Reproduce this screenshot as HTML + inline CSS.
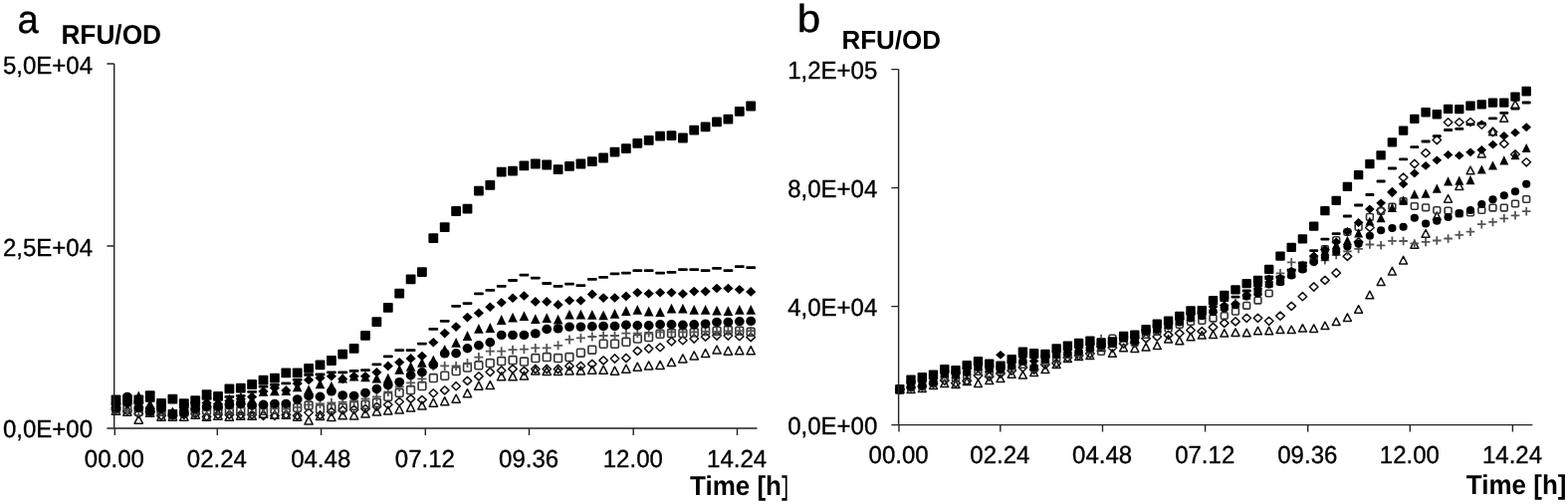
<!DOCTYPE html>
<html><head><meta charset="utf-8"><title>RFU/OD</title>
<style>
html,body{margin:0;padding:0;background:#fff;width:1575px;height:506px;overflow:hidden}
svg{display:block}
text{text-rendering:geometricPrecision}
.n{font-family:"Liberation Sans", Arial, Helvetica, sans-serif;font-size:24px;fill:#000;stroke:#000;stroke-width:0.35px}
.b{font-family:"Liberation Sans", Arial, Helvetica, sans-serif;font-size:26px;font-weight:bold;fill:#000}
.big{font-family:"Liberation Sans", Arial, Helvetica, sans-serif;font-size:39px;fill:#000;stroke:#000;stroke-width:0.4px}
</style></head><body>
<svg width="1575" height="506" viewBox="0 0 1575 506">
<g fill="none" stroke="#111" stroke-width="1.5" stroke-linejoin="round"><path d="M116.5 408.2L120.7 416.2L112.3 416.2Z"/><path d="M127.9 409.2L132.0 417.2L123.7 417.2Z"/><path d="M139.3 417.2L143.4 425.2L135.1 425.2Z"/><path d="M150.7 410.2L154.8 418.2L146.5 418.2Z"/><path d="M162.0 414.2L166.2 422.2L157.9 422.2Z"/><path d="M173.4 414.2L177.6 422.2L169.3 422.2Z"/><path d="M184.8 414.2L189.0 422.2L180.7 422.2Z"/><path d="M196.2 412.2L200.4 420.2L192.1 420.2Z"/><path d="M207.6 414.2L211.7 422.2L203.4 422.2Z"/><path d="M219.0 413.2L223.1 421.2L214.8 421.2Z"/><path d="M230.4 414.2L234.5 422.2L226.2 422.2Z"/><path d="M241.8 413.2L245.9 421.2L237.6 421.2Z"/><path d="M253.1 413.2L257.3 421.2L249.0 421.2Z"/><path d="M264.5 411.2L268.7 419.2L260.4 419.2Z"/><path d="M275.9 412.2L280.1 420.2L271.8 420.2Z"/><path d="M287.3 412.2L291.5 420.2L283.2 420.2Z"/><path d="M298.7 414.2L302.8 422.2L294.5 422.2Z"/><path d="M310.1 418.1L314.2 426.1L305.9 426.1Z"/><path d="M321.5 413.6L325.6 421.6L317.3 421.6Z"/><path d="M332.9 414.5L337.0 422.6L328.7 422.6Z"/><path d="M344.2 412.7L348.4 420.8L340.1 420.8Z"/><path d="M355.6 413.0L359.8 421.1L351.5 421.1Z"/><path d="M367.0 411.0L371.2 419.1L362.9 419.1Z"/><path d="M378.4 409.0L382.6 417.1L374.3 417.1Z"/><path d="M389.8 408.0L393.9 416.1L385.6 416.1Z"/><path d="M401.2 407.0L405.3 415.1L397.0 415.1Z"/><path d="M412.6 405.1L416.7 413.1L408.4 413.1Z"/><path d="M423.9 403.1L428.1 411.1L419.8 411.1Z"/><path d="M435.3 400.2L439.5 408.2L431.2 408.2Z"/><path d="M446.7 398.7L450.9 406.8L442.6 406.8Z"/><path d="M458.1 396.2L462.3 404.2L454.0 404.2Z"/><path d="M469.5 390.7L473.6 398.8L465.3 398.8Z"/><path d="M480.9 383.2L485.0 391.2L476.7 391.2Z"/><path d="M492.3 382.6L496.4 390.6L488.1 390.6Z"/><path d="M503.7 373.7L507.8 381.8L499.5 381.8Z"/><path d="M515.0 373.7L519.2 381.8L510.9 381.8Z"/><path d="M526.4 373.1L530.6 381.1L522.3 381.1Z"/><path d="M537.8 367.8L542.0 375.9L533.7 375.9Z"/><path d="M549.2 368.4L553.4 376.4L545.1 376.4Z"/><path d="M560.6 368.4L564.7 376.4L556.4 376.4Z"/><path d="M572.0 367.8L576.1 375.9L567.8 375.9Z"/><path d="M583.4 367.8L587.5 375.9L579.2 375.9Z"/><path d="M594.8 367.2L598.9 375.2L590.6 375.2Z"/><path d="M606.1 367.2L610.3 375.2L602.0 375.2Z"/><path d="M617.5 368.2L621.7 376.2L613.4 376.2Z"/><path d="M628.9 366.2L633.1 374.2L624.8 374.2Z"/><path d="M640.3 364.2L644.5 372.2L636.2 372.2Z"/><path d="M651.7 362.9L655.8 370.9L647.5 370.9Z"/><path d="M663.1 362.4L667.2 370.4L658.9 370.4Z"/><path d="M674.5 359.6L678.6 367.6L670.3 367.6Z"/><path d="M685.9 355.8L690.0 363.9L681.7 363.9Z"/><path d="M697.2 352.9L701.4 360.9L693.1 360.9Z"/><path d="M708.6 350.5L712.8 358.6L704.5 358.6Z"/><path d="M720.0 347.0L724.2 355.1L715.9 355.1Z"/><path d="M731.4 348.2L735.5 356.2L727.2 356.2Z"/><path d="M742.8 347.7L746.9 355.8L738.6 355.8Z"/><path d="M754.2 347.7L758.3 355.8L750.0 355.8Z"/></g>
<g fill="none" stroke="#111" stroke-width="1.5" stroke-linejoin="round"><path d="M116.5 407.3L120.8 411.4L116.5 415.4L112.2 411.4Z"/><path d="M127.9 408.3L132.1 412.4L127.9 416.4L123.6 412.4Z"/><path d="M139.3 411.3L143.5 415.4L139.3 419.4L135.0 415.4Z"/><path d="M150.7 409.3L154.9 413.4L150.7 417.4L146.4 413.4Z"/><path d="M162.0 413.3L166.3 417.4L162.0 421.4L157.8 417.4Z"/><path d="M173.4 413.3L177.7 417.4L173.4 421.4L169.2 417.4Z"/><path d="M184.8 412.3L189.1 416.4L184.8 420.4L180.6 416.4Z"/><path d="M196.2 411.3L200.5 415.4L196.2 419.4L192.0 415.4Z"/><path d="M207.6 414.3L211.8 418.4L207.6 422.4L203.3 418.4Z"/><path d="M219.0 412.3L223.2 416.4L219.0 420.4L214.7 416.4Z"/><path d="M230.4 412.3L234.6 416.4L230.4 420.4L226.1 416.4Z"/><path d="M241.8 412.3L246.0 416.4L241.8 420.4L237.5 416.4Z"/><path d="M253.1 412.3L257.4 416.4L253.1 420.4L248.9 416.4Z"/><path d="M264.5 413.3L268.8 417.4L264.5 421.4L260.3 417.4Z"/><path d="M275.9 413.3L280.2 417.4L275.9 421.4L271.7 417.4Z"/><path d="M287.3 412.3L291.6 416.4L287.3 420.4L283.1 416.4Z"/><path d="M298.7 413.3L302.9 417.4L298.7 421.4L294.4 417.4Z"/><path d="M310.1 410.1L314.3 414.2L310.1 418.2L305.8 414.2Z"/><path d="M321.5 412.8L325.7 416.9L321.5 420.9L317.2 416.9Z"/><path d="M332.9 409.3L337.1 413.4L332.9 417.4L328.6 413.4Z"/><path d="M344.2 407.8L348.5 411.9L344.2 415.9L340.0 411.9Z"/><path d="M355.6 407.1L359.9 411.2L355.6 415.2L351.4 411.2Z"/><path d="M367.0 406.3L371.3 410.4L367.0 414.4L362.8 410.4Z"/><path d="M378.4 404.2L382.7 408.3L378.4 412.3L374.2 408.3Z"/><path d="M389.8 402.2L394.0 406.3L389.8 410.3L385.5 406.3Z"/><path d="M401.2 399.2L405.4 403.3L401.2 407.3L396.9 403.3Z"/><path d="M412.6 396.3L416.8 400.4L412.6 404.4L408.3 400.4Z"/><path d="M423.9 397.3L428.2 401.4L423.9 405.4L419.7 401.4Z"/><path d="M435.3 390.7L439.6 394.8L435.3 398.8L431.1 394.8Z"/><path d="M446.7 387.8L451.0 391.9L446.7 395.9L442.5 391.9Z"/><path d="M458.1 383.6L462.4 387.7L458.1 391.8L453.9 387.7Z"/><path d="M469.5 378.3L473.7 382.4L469.5 386.4L465.2 382.4Z"/><path d="M480.9 373.8L485.1 377.9L480.9 381.9L476.6 377.9Z"/><path d="M492.3 369.4L496.5 373.5L492.3 377.6L488.0 373.5Z"/><path d="M503.7 367.9L507.9 372.0L503.7 376.1L499.4 372.0Z"/><path d="M515.0 366.3L519.3 370.4L515.0 374.4L510.8 370.4Z"/><path d="M526.4 368.3L530.7 372.4L526.4 376.4L522.2 372.4Z"/><path d="M537.8 366.4L542.1 370.5L537.8 374.6L533.6 370.5Z"/><path d="M549.2 366.4L553.5 370.5L549.2 374.6L545.0 370.5Z"/><path d="M560.6 366.4L564.8 370.5L560.6 374.6L556.3 370.5Z"/><path d="M572.0 363.4L576.2 367.5L572.0 371.6L567.7 367.5Z"/><path d="M583.4 363.4L587.6 367.5L583.4 371.6L579.1 367.5Z"/><path d="M594.8 361.3L599.0 365.4L594.8 369.4L590.5 365.4Z"/><path d="M606.1 357.8L610.4 361.9L606.1 365.9L601.9 361.9Z"/><path d="M617.5 355.9L621.8 360.0L617.5 364.1L613.3 360.0Z"/><path d="M628.9 355.4L633.2 359.5L628.9 363.6L624.7 359.5Z"/><path d="M640.3 348.3L644.6 352.4L640.3 356.4L636.1 352.4Z"/><path d="M651.7 345.9L655.9 350.0L651.7 354.1L647.4 350.0Z"/><path d="M663.1 344.7L667.3 348.8L663.1 352.8L658.8 348.8Z"/><path d="M674.5 338.8L678.7 342.9L674.5 346.9L670.2 342.9Z"/><path d="M685.9 337.6L690.1 341.7L685.9 345.8L681.6 341.7Z"/><path d="M697.2 335.9L701.5 340.0L697.2 344.1L693.0 340.0Z"/><path d="M708.6 334.0L712.9 338.1L708.6 342.1L704.4 338.1Z"/><path d="M720.0 332.9L724.3 337.0L720.0 341.1L715.8 337.0Z"/><path d="M731.4 332.9L735.6 337.0L731.4 341.1L727.1 337.0Z"/><path d="M742.8 333.6L747.0 337.7L742.8 341.8L738.5 337.7Z"/><path d="M754.2 334.5L758.4 338.6L754.2 342.6L749.9 338.6Z"/></g>
<g fill="none" stroke="#333" stroke-width="1.6"><rect x="112.7" y="406.4" width="7.7" height="7.9" rx="1.2"/><rect x="124.0" y="407.4" width="7.7" height="7.9" rx="1.2"/><rect x="135.4" y="409.4" width="7.7" height="7.9" rx="1.2"/><rect x="146.8" y="408.4" width="7.7" height="7.9" rx="1.2"/><rect x="158.2" y="409.4" width="7.7" height="7.9" rx="1.2"/><rect x="169.6" y="412.4" width="7.7" height="7.9" rx="1.2"/><rect x="181.0" y="410.4" width="7.7" height="7.9" rx="1.2"/><rect x="192.4" y="409.4" width="7.7" height="7.9" rx="1.2"/><rect x="203.7" y="408.4" width="7.7" height="7.9" rx="1.2"/><rect x="215.1" y="408.4" width="7.7" height="7.9" rx="1.2"/><rect x="226.5" y="408.4" width="7.7" height="7.9" rx="1.2"/><rect x="237.9" y="408.4" width="7.7" height="7.9" rx="1.2"/><rect x="249.3" y="409.4" width="7.7" height="7.9" rx="1.2"/><rect x="260.7" y="408.4" width="7.7" height="7.9" rx="1.2"/><rect x="272.1" y="407.4" width="7.7" height="7.9" rx="1.2"/><rect x="283.5" y="406.4" width="7.7" height="7.9" rx="1.2"/><rect x="294.8" y="405.4" width="7.7" height="7.9" rx="1.2"/><rect x="306.2" y="403.1" width="7.7" height="7.9" rx="1.2"/><rect x="317.6" y="406.8" width="7.7" height="7.9" rx="1.2"/><rect x="329.0" y="405.8" width="7.7" height="7.9" rx="1.2"/><rect x="340.4" y="405.4" width="7.7" height="7.9" rx="1.2"/><rect x="351.8" y="403.4" width="7.7" height="7.9" rx="1.2"/><rect x="363.2" y="402.4" width="7.7" height="7.9" rx="1.2"/><rect x="374.6" y="400.4" width="7.7" height="7.9" rx="1.2"/><rect x="385.9" y="394.4" width="7.7" height="7.9" rx="1.2"/><rect x="397.3" y="390.4" width="7.7" height="7.9" rx="1.2"/><rect x="408.7" y="387.6" width="7.7" height="7.9" rx="1.2"/><rect x="420.1" y="383.6" width="7.7" height="7.9" rx="1.2"/><rect x="431.5" y="375.6" width="7.7" height="7.9" rx="1.2"/><rect x="442.9" y="373.3" width="7.7" height="7.9" rx="1.2"/><rect x="454.3" y="368.6" width="7.7" height="7.9" rx="1.2"/><rect x="465.6" y="365.1" width="7.7" height="7.9" rx="1.2"/><rect x="477.0" y="362.9" width="7.7" height="7.9" rx="1.2"/><rect x="488.4" y="360.6" width="7.7" height="7.9" rx="1.2"/><rect x="499.8" y="358.6" width="7.7" height="7.9" rx="1.2"/><rect x="511.2" y="357.6" width="7.7" height="7.9" rx="1.2"/><rect x="522.6" y="359.1" width="7.7" height="7.9" rx="1.2"/><rect x="534.0" y="355.6" width="7.7" height="7.9" rx="1.2"/><rect x="545.4" y="354.6" width="7.7" height="7.9" rx="1.2"/><rect x="556.7" y="355.6" width="7.7" height="7.9" rx="1.2"/><rect x="568.1" y="354.6" width="7.7" height="7.9" rx="1.2"/><rect x="579.5" y="350.2" width="7.7" height="7.9" rx="1.2"/><rect x="590.9" y="347.2" width="7.7" height="7.9" rx="1.2"/><rect x="602.3" y="341.3" width="7.7" height="7.9" rx="1.2"/><rect x="613.7" y="341.3" width="7.7" height="7.9" rx="1.2"/><rect x="625.1" y="339.4" width="7.7" height="7.9" rx="1.2"/><rect x="636.5" y="336.1" width="7.7" height="7.9" rx="1.2"/><rect x="647.8" y="334.6" width="7.7" height="7.9" rx="1.2"/><rect x="659.2" y="331.3" width="7.7" height="7.9" rx="1.2"/><rect x="670.6" y="330.6" width="7.7" height="7.9" rx="1.2"/><rect x="682.0" y="330.6" width="7.7" height="7.9" rx="1.2"/><rect x="693.4" y="329.9" width="7.7" height="7.9" rx="1.2"/><rect x="704.8" y="328.2" width="7.7" height="7.9" rx="1.2"/><rect x="716.2" y="328.2" width="7.7" height="7.9" rx="1.2"/><rect x="727.5" y="327.6" width="7.7" height="7.9" rx="1.2"/><rect x="738.9" y="328.2" width="7.7" height="7.9" rx="1.2"/><rect x="750.3" y="329.4" width="7.7" height="7.9" rx="1.2"/></g>
<g fill="none" stroke="#555" stroke-width="1.8"><path d="M112.0 410.4H121.0M116.5 405.9V414.9"/><path d="M123.4 411.4H132.4M127.9 406.9V415.9"/><path d="M134.8 412.4H143.8M139.3 407.9V416.9"/><path d="M146.2 412.4H155.2M150.7 407.9V416.9"/><path d="M157.5 413.4H166.5M162.0 408.9V417.9"/><path d="M168.9 416.4H177.9M173.4 411.9V420.9"/><path d="M180.3 414.4H189.3M184.8 409.9V418.9"/><path d="M191.7 412.4H200.7M196.2 407.9V416.9"/><path d="M203.1 411.4H212.1M207.6 406.9V415.9"/><path d="M214.5 410.4H223.5M219.0 405.9V414.9"/><path d="M225.9 410.4H234.9M230.4 405.9V414.9"/><path d="M237.3 409.4H246.3M241.8 404.9V413.9"/><path d="M248.6 408.4H257.6M253.1 403.9V412.9"/><path d="M260.0 410.4H269.0M264.5 405.9V414.9"/><path d="M271.4 410.4H280.4M275.9 405.9V414.9"/><path d="M282.8 410.7H291.8M287.3 406.2V415.2"/><path d="M294.2 408.9H303.2M298.7 404.4V413.4"/><path d="M305.6 406.4H314.6M310.1 401.9V410.9"/><path d="M317.0 405.4H326.0M321.5 400.9V409.9"/><path d="M328.4 404.4H337.4M332.9 399.9V408.9"/><path d="M339.7 403.6H348.7M344.2 399.1V408.1"/><path d="M351.1 402.4H360.1M355.6 397.9V406.9"/><path d="M362.5 400.4H371.5M367.0 395.9V404.9"/><path d="M373.9 398.4H382.9M378.4 393.9V402.9"/><path d="M385.3 393.4H394.3M389.8 388.9V397.9"/><path d="M396.7 388.4H405.7M401.2 383.9V392.9"/><path d="M408.1 384.4H417.1M412.6 379.9V388.9"/><path d="M419.4 380.4H428.4M423.9 375.9V384.9"/><path d="M430.8 367.4H439.8M435.3 362.9V371.9"/><path d="M442.2 367.4H451.2M446.7 362.9V371.9"/><path d="M453.6 367.4H462.6M458.1 362.9V371.9"/><path d="M465.0 364.6H474.0M469.5 360.1V369.1"/><path d="M476.4 358.6H485.4M480.9 354.1V363.1"/><path d="M487.8 352.7H496.8M492.3 348.2V357.2"/><path d="M499.2 352.7H508.2M503.7 348.2V357.2"/><path d="M510.5 351.2H519.5M515.0 346.7V355.7"/><path d="M521.9 350.6H530.9M526.4 346.1V355.1"/><path d="M533.3 349.4H542.3M537.8 344.9V353.9"/><path d="M544.7 349.4H553.7M549.2 344.9V353.9"/><path d="M556.1 346.8H565.1M560.6 342.3V351.3"/><path d="M567.5 340.9H576.5M572.0 336.4V345.4"/><path d="M578.9 339.4H587.9M583.4 334.9V343.9"/><path d="M590.3 338.0H599.3M594.8 333.5V342.5"/><path d="M601.6 337.0H610.6M606.1 332.5V341.5"/><path d="M613.0 337.0H622.0M617.5 332.5V341.5"/><path d="M624.4 334.6H633.4M628.9 330.1V339.1"/><path d="M635.8 334.6H644.8M640.3 330.1V339.1"/><path d="M647.2 333.9H656.2M651.7 329.4V338.4"/><path d="M658.6 333.4H667.6M663.1 328.9V337.9"/><path d="M670.0 333.4H679.0M674.5 328.9V337.9"/><path d="M681.4 333.4H690.4M685.9 328.9V337.9"/><path d="M692.7 333.4H701.7M697.2 328.9V337.9"/><path d="M704.1 332.9H713.1M708.6 328.4V337.4"/><path d="M715.5 332.9H724.5M720.0 328.4V337.4"/><path d="M726.9 332.4H735.9M731.4 327.9V336.9"/><path d="M738.3 332.4H747.3M742.8 327.9V336.9"/><path d="M749.7 332.2H758.7M754.2 327.7V336.7"/></g>
<g fill="#000"><ellipse cx="116.5" cy="409.4" rx="4.90" ry="4.70"/><ellipse cx="127.9" cy="398.4" rx="4.90" ry="4.70"/><ellipse cx="139.3" cy="409.4" rx="4.90" ry="4.70"/><ellipse cx="150.7" cy="413.4" rx="4.90" ry="4.70"/><ellipse cx="162.0" cy="410.4" rx="4.90" ry="4.70"/><ellipse cx="173.4" cy="416.4" rx="4.90" ry="4.70"/><ellipse cx="184.8" cy="414.4" rx="4.90" ry="4.70"/><ellipse cx="196.2" cy="410.4" rx="4.90" ry="4.70"/><ellipse cx="207.6" cy="408.4" rx="4.90" ry="4.70"/><ellipse cx="219.0" cy="408.4" rx="4.90" ry="4.70"/><ellipse cx="230.4" cy="406.4" rx="4.90" ry="4.70"/><ellipse cx="241.8" cy="405.4" rx="4.90" ry="4.70"/><ellipse cx="253.1" cy="406.9" rx="4.90" ry="4.70"/><ellipse cx="264.5" cy="406.2" rx="4.90" ry="4.70"/><ellipse cx="275.9" cy="405.4" rx="4.90" ry="4.70"/><ellipse cx="287.3" cy="405.4" rx="4.90" ry="4.70"/><ellipse cx="298.7" cy="400.9" rx="4.90" ry="4.70"/><ellipse cx="310.1" cy="397.4" rx="4.90" ry="4.70"/><ellipse cx="321.5" cy="398.2" rx="4.90" ry="4.70"/><ellipse cx="332.9" cy="392.9" rx="4.90" ry="4.70"/><ellipse cx="344.2" cy="396.9" rx="4.90" ry="4.70"/><ellipse cx="355.6" cy="397.4" rx="4.90" ry="4.70"/><ellipse cx="367.0" cy="394.4" rx="4.90" ry="4.70"/><ellipse cx="378.4" cy="390.5" rx="4.90" ry="4.70"/><ellipse cx="389.8" cy="386.6" rx="4.90" ry="4.70"/><ellipse cx="401.2" cy="383.6" rx="4.90" ry="4.70"/><ellipse cx="412.6" cy="376.7" rx="4.90" ry="4.70"/><ellipse cx="423.9" cy="373.7" rx="4.90" ry="4.70"/><ellipse cx="435.3" cy="366.1" rx="4.90" ry="4.70"/><ellipse cx="446.7" cy="354.9" rx="4.90" ry="4.70"/><ellipse cx="458.1" cy="354.8" rx="4.90" ry="4.70"/><ellipse cx="469.5" cy="349.7" rx="4.90" ry="4.70"/><ellipse cx="480.9" cy="346.8" rx="4.90" ry="4.70"/><ellipse cx="492.3" cy="343.8" rx="4.90" ry="4.70"/><ellipse cx="503.7" cy="336.4" rx="4.90" ry="4.70"/><ellipse cx="515.0" cy="336.4" rx="4.90" ry="4.70"/><ellipse cx="526.4" cy="336.4" rx="4.90" ry="4.70"/><ellipse cx="537.8" cy="334.9" rx="4.90" ry="4.70"/><ellipse cx="549.2" cy="330.5" rx="4.90" ry="4.70"/><ellipse cx="560.6" cy="329.9" rx="4.90" ry="4.70"/><ellipse cx="572.0" cy="328.1" rx="4.90" ry="4.70"/><ellipse cx="583.4" cy="328.1" rx="4.90" ry="4.70"/><ellipse cx="594.8" cy="327.7" rx="4.90" ry="4.70"/><ellipse cx="606.1" cy="327.4" rx="4.90" ry="4.70"/><ellipse cx="617.5" cy="327.4" rx="4.90" ry="4.70"/><ellipse cx="628.9" cy="326.3" rx="4.90" ry="4.70"/><ellipse cx="640.3" cy="326.8" rx="4.90" ry="4.70"/><ellipse cx="651.7" cy="326.8" rx="4.90" ry="4.70"/><ellipse cx="663.1" cy="325.8" rx="4.90" ry="4.70"/><ellipse cx="674.5" cy="325.8" rx="4.90" ry="4.70"/><ellipse cx="685.9" cy="326.3" rx="4.90" ry="4.70"/><ellipse cx="697.2" cy="325.8" rx="4.90" ry="4.70"/><ellipse cx="708.6" cy="325.1" rx="4.90" ry="4.70"/><ellipse cx="720.0" cy="323.4" rx="4.90" ry="4.70"/><ellipse cx="731.4" cy="323.4" rx="4.90" ry="4.70"/><ellipse cx="742.8" cy="322.7" rx="4.90" ry="4.70"/><ellipse cx="754.2" cy="322.4" rx="4.90" ry="4.70"/></g>
<g fill="#000"><path d="M116.5 399.5L121.3 409.3L111.7 409.3Z"/><path d="M127.9 397.5L132.7 407.3L123.1 407.3Z"/><path d="M139.3 392.5L144.1 402.3L134.5 402.3Z"/><path d="M150.7 400.5L155.5 410.3L145.9 410.3Z"/><path d="M162.0 401.5L166.8 411.3L157.2 411.3Z"/><path d="M173.4 408.5L178.2 418.3L168.6 418.3Z"/><path d="M184.8 402.5L189.6 412.3L180.0 412.3Z"/><path d="M196.2 400.5L201.0 410.3L191.4 410.3Z"/><path d="M207.6 398.5L212.4 408.3L202.8 408.3Z"/><path d="M219.0 398.5L223.8 408.3L214.2 408.3Z"/><path d="M230.4 395.5L235.2 405.3L225.6 405.3Z"/><path d="M241.8 393.5L246.6 403.3L237.0 403.3Z"/><path d="M253.1 396.5L257.9 406.3L248.3 406.3Z"/><path d="M264.5 388.0L269.3 397.8L259.7 397.8Z"/><path d="M275.9 387.5L280.7 397.3L271.1 397.3Z"/><path d="M287.3 387.1L292.1 396.9L282.5 396.9Z"/><path d="M298.7 383.5L303.5 393.3L293.9 393.3Z"/><path d="M310.1 386.2L314.9 396.0L305.3 396.0Z"/><path d="M321.5 380.5L326.3 390.3L316.7 390.3Z"/><path d="M332.9 382.7L337.7 392.5L328.1 392.5Z"/><path d="M344.2 374.7L349.0 384.5L339.4 384.5Z"/><path d="M355.6 372.8L360.4 382.6L350.8 382.6Z"/><path d="M367.0 373.5L371.8 383.3L362.2 383.3Z"/><path d="M378.4 374.7L383.2 384.5L373.6 384.5Z"/><path d="M389.8 374.7L394.6 384.5L385.0 384.5Z"/><path d="M401.2 365.9L406.0 375.7L396.4 375.7Z"/><path d="M412.6 362.9L417.4 372.7L407.8 372.7Z"/><path d="M423.9 358.9L428.7 368.7L419.1 368.7Z"/><path d="M435.3 356.5L440.1 366.3L430.5 366.3Z"/><path d="M446.7 346.0L451.5 355.8L441.9 355.8Z"/><path d="M458.1 338.9L462.9 348.7L453.3 348.7Z"/><path d="M469.5 332.1L474.3 341.9L464.7 341.9Z"/><path d="M480.9 325.0L485.7 334.8L476.1 334.8Z"/><path d="M492.3 324.1L497.1 333.9L487.5 333.9Z"/><path d="M503.7 316.1L508.5 325.9L498.9 325.9Z"/><path d="M515.0 313.7L519.8 323.5L510.2 323.5Z"/><path d="M526.4 312.2L531.2 322.0L521.6 322.0Z"/><path d="M537.8 315.2L542.6 325.0L533.0 325.0Z"/><path d="M549.2 314.3L554.0 324.1L544.4 324.1Z"/><path d="M560.6 315.8L565.4 325.6L555.8 325.6Z"/><path d="M572.0 310.7L576.8 320.5L567.2 320.5Z"/><path d="M583.4 310.7L588.2 320.5L578.6 320.5Z"/><path d="M594.8 311.0L599.6 320.8L590.0 320.8Z"/><path d="M606.1 311.5L610.9 321.3L601.3 321.3Z"/><path d="M617.5 310.0L622.3 319.8L612.7 319.8Z"/><path d="M628.9 307.2L633.7 317.0L624.1 317.0Z"/><path d="M640.3 306.0L645.1 315.8L635.5 315.8Z"/><path d="M651.7 307.6L656.5 317.4L646.9 317.4Z"/><path d="M663.1 308.3L667.9 318.1L658.3 318.1Z"/><path d="M674.5 304.8L679.3 314.6L669.7 314.6Z"/><path d="M685.9 304.8L690.6 314.6L681.1 314.6Z"/><path d="M697.2 306.0L702.0 315.8L692.4 315.8Z"/><path d="M708.6 306.0L713.4 315.8L703.8 315.8Z"/><path d="M720.0 306.7L724.8 316.5L715.2 316.5Z"/><path d="M731.4 307.2L736.2 317.0L726.6 317.0Z"/><path d="M742.8 306.0L747.6 315.8L738.0 315.8Z"/><path d="M754.2 306.0L759.0 315.8L749.4 315.8Z"/></g>
<g fill="#000"><path d="M116.5 401.6L121.6 406.4L116.5 411.2L111.4 406.4Z"/><path d="M127.9 400.6L133.0 405.4L127.9 410.2L122.8 405.4Z"/><path d="M139.3 397.6L144.4 402.4L139.3 407.2L134.2 402.4Z"/><path d="M150.7 405.6L155.8 410.4L150.7 415.2L145.6 410.4Z"/><path d="M162.0 403.6L167.1 408.4L162.0 413.2L156.9 408.4Z"/><path d="M173.4 409.6L178.5 414.4L173.4 419.2L168.3 414.4Z"/><path d="M184.8 404.6L189.9 409.4L184.8 414.2L179.7 409.4Z"/><path d="M196.2 402.6L201.3 407.4L196.2 412.2L191.1 407.4Z"/><path d="M207.6 399.6L212.7 404.4L207.6 409.2L202.5 404.4Z"/><path d="M219.0 400.6L224.1 405.4L219.0 410.2L213.9 405.4Z"/><path d="M230.4 397.6L235.5 402.4L230.4 407.2L225.3 402.4Z"/><path d="M241.8 395.6L246.9 400.4L241.8 405.2L236.7 400.4Z"/><path d="M253.1 393.6L258.2 398.4L253.1 403.2L248.0 398.4Z"/><path d="M264.5 388.1L269.6 392.9L264.5 397.7L259.4 392.9Z"/><path d="M275.9 384.6L281.0 389.4L275.9 394.2L270.8 389.4Z"/><path d="M287.3 387.2L292.4 392.0L287.3 396.8L282.2 392.0Z"/><path d="M298.7 380.1L303.8 384.9L298.7 389.7L293.6 384.9Z"/><path d="M310.1 376.6L315.2 381.4L310.1 386.2L305.0 381.4Z"/><path d="M321.5 374.6L326.6 379.4L321.5 384.2L316.4 379.4Z"/><path d="M332.9 373.0L338.0 377.8L332.9 382.6L327.8 377.8Z"/><path d="M344.2 375.6L349.3 380.4L344.2 385.2L339.1 380.4Z"/><path d="M355.6 372.9L360.7 377.7L355.6 382.5L350.5 377.7Z"/><path d="M367.0 372.9L372.1 377.7L367.0 382.5L361.9 377.7Z"/><path d="M378.4 368.9L383.5 373.7L378.4 378.5L373.3 373.7Z"/><path d="M389.8 362.6L394.9 367.4L389.8 372.2L384.7 367.4Z"/><path d="M401.2 359.0L406.3 363.8L401.2 368.6L396.1 363.8Z"/><path d="M412.6 355.1L417.7 359.9L412.6 364.7L407.5 359.9Z"/><path d="M423.9 352.7L429.0 357.5L423.9 362.3L418.8 357.5Z"/><path d="M435.3 339.0L440.4 343.8L435.3 348.6L430.2 343.8Z"/><path d="M446.7 329.8L451.8 334.6L446.7 339.4L441.6 334.6Z"/><path d="M458.1 323.3L463.2 328.1L458.1 332.9L453.0 328.1Z"/><path d="M469.5 313.8L474.6 318.6L469.5 323.4L464.4 318.6Z"/><path d="M480.9 309.4L486.0 314.2L480.9 319.0L475.8 314.2Z"/><path d="M492.3 303.4L497.4 308.2L492.3 313.0L487.2 308.2Z"/><path d="M503.7 299.0L508.8 303.8L503.7 308.6L498.6 303.8Z"/><path d="M515.0 294.5L520.1 299.3L515.0 304.1L509.9 299.3Z"/><path d="M526.4 292.2L531.5 297.0L526.4 301.8L521.3 297.0Z"/><path d="M537.8 298.1L542.9 302.9L537.8 307.7L532.7 302.9Z"/><path d="M549.2 298.1L554.3 302.9L549.2 307.7L544.1 302.9Z"/><path d="M560.6 301.1L565.7 305.9L560.6 310.7L555.5 305.9Z"/><path d="M572.0 296.9L577.1 301.7L572.0 306.5L566.9 301.7Z"/><path d="M583.4 296.9L588.5 301.7L583.4 306.5L578.3 301.7Z"/><path d="M594.8 290.6L599.9 295.4L594.8 300.2L589.7 295.4Z"/><path d="M606.1 294.3L611.2 299.1L606.1 303.9L601.0 299.1Z"/><path d="M617.5 294.2L622.6 299.0L617.5 303.8L612.4 299.0Z"/><path d="M628.9 292.6L634.0 297.4L628.9 302.2L623.8 297.4Z"/><path d="M640.3 289.0L645.4 293.8L640.3 298.6L635.2 293.8Z"/><path d="M651.7 289.9L656.8 294.7L651.7 299.5L646.6 294.7Z"/><path d="M663.1 289.0L668.2 293.8L663.1 298.6L658.0 293.8Z"/><path d="M674.5 289.0L679.6 293.8L674.5 298.6L669.4 293.8Z"/><path d="M685.9 290.2L691.0 295.0L685.9 299.8L680.8 295.0Z"/><path d="M697.2 287.8L702.3 292.6L697.2 297.4L692.1 292.6Z"/><path d="M708.6 287.8L713.7 292.6L708.6 297.4L703.5 292.6Z"/><path d="M720.0 284.7L725.1 289.5L720.0 294.3L714.9 289.5Z"/><path d="M731.4 284.7L736.5 289.5L731.4 294.3L726.3 289.5Z"/><path d="M742.8 285.9L747.9 290.7L742.8 295.5L737.7 290.7Z"/><path d="M754.2 288.1L759.3 292.9L754.2 297.7L749.1 292.9Z"/></g>
<g fill="#000"><rect x="111.6" y="404.0" width="9.8" height="2.8" rx="1"/><rect x="123.0" y="402.0" width="9.8" height="2.8" rx="1"/><rect x="134.4" y="403.0" width="9.8" height="2.8" rx="1"/><rect x="145.8" y="401.0" width="9.8" height="2.8" rx="1"/><rect x="157.1" y="404.0" width="9.8" height="2.8" rx="1"/><rect x="168.5" y="411.0" width="9.8" height="2.8" rx="1"/><rect x="179.9" y="405.0" width="9.8" height="2.8" rx="1"/><rect x="191.3" y="403.0" width="9.8" height="2.8" rx="1"/><rect x="202.7" y="399.0" width="9.8" height="2.8" rx="1"/><rect x="214.1" y="399.0" width="9.8" height="2.8" rx="1"/><rect x="225.5" y="397.0" width="9.8" height="2.8" rx="1"/><rect x="236.9" y="396.0" width="9.8" height="2.8" rx="1"/><rect x="248.2" y="392.0" width="9.8" height="2.8" rx="1"/><rect x="259.6" y="386.7" width="9.8" height="2.8" rx="1"/><rect x="271.0" y="385.0" width="9.8" height="2.8" rx="1"/><rect x="282.4" y="383.5" width="9.8" height="2.8" rx="1"/><rect x="293.8" y="380.0" width="9.8" height="2.8" rx="1"/><rect x="305.2" y="375.0" width="9.8" height="2.8" rx="1"/><rect x="316.6" y="374.6" width="9.8" height="2.8" rx="1"/><rect x="328.0" y="372.5" width="9.8" height="2.8" rx="1"/><rect x="339.3" y="372.4" width="9.8" height="2.8" rx="1"/><rect x="350.7" y="371.0" width="9.8" height="2.8" rx="1"/><rect x="362.1" y="370.3" width="9.8" height="2.8" rx="1"/><rect x="373.5" y="364.4" width="9.8" height="2.8" rx="1"/><rect x="384.9" y="356.5" width="9.8" height="2.8" rx="1"/><rect x="396.3" y="350.2" width="9.8" height="2.8" rx="1"/><rect x="407.7" y="350.2" width="9.8" height="2.8" rx="1"/><rect x="419.0" y="343.7" width="9.8" height="2.8" rx="1"/><rect x="430.4" y="329.0" width="9.8" height="2.8" rx="1"/><rect x="441.8" y="321.0" width="9.8" height="2.8" rx="1"/><rect x="453.2" y="306.0" width="9.8" height="2.8" rx="1"/><rect x="464.6" y="303.3" width="9.8" height="2.8" rx="1"/><rect x="476.0" y="293.5" width="9.8" height="2.8" rx="1"/><rect x="487.4" y="290.0" width="9.8" height="2.8" rx="1"/><rect x="498.8" y="286.0" width="9.8" height="2.8" rx="1"/><rect x="510.1" y="280.1" width="9.8" height="2.8" rx="1"/><rect x="521.5" y="274.8" width="9.8" height="2.8" rx="1"/><rect x="532.9" y="277.8" width="9.8" height="2.8" rx="1"/><rect x="544.3" y="283.1" width="9.8" height="2.8" rx="1"/><rect x="555.7" y="286.0" width="9.8" height="2.8" rx="1"/><rect x="567.1" y="283.7" width="9.8" height="2.8" rx="1"/><rect x="578.5" y="285.2" width="9.8" height="2.8" rx="1"/><rect x="589.9" y="279.0" width="9.8" height="2.8" rx="1"/><rect x="601.2" y="277.0" width="9.8" height="2.8" rx="1"/><rect x="612.6" y="273.4" width="9.8" height="2.8" rx="1"/><rect x="624.0" y="272.7" width="9.8" height="2.8" rx="1"/><rect x="635.4" y="270.3" width="9.8" height="2.8" rx="1"/><rect x="646.8" y="270.3" width="9.8" height="2.8" rx="1"/><rect x="658.2" y="272.7" width="9.8" height="2.8" rx="1"/><rect x="669.6" y="272.0" width="9.8" height="2.8" rx="1"/><rect x="681.0" y="269.2" width="9.8" height="2.8" rx="1"/><rect x="692.3" y="269.2" width="9.8" height="2.8" rx="1"/><rect x="703.7" y="270.3" width="9.8" height="2.8" rx="1"/><rect x="715.1" y="268.0" width="9.8" height="2.8" rx="1"/><rect x="726.5" y="270.3" width="9.8" height="2.8" rx="1"/><rect x="737.9" y="266.3" width="9.8" height="2.8" rx="1"/><rect x="749.3" y="267.3" width="9.8" height="2.8" rx="1"/></g>
<g fill="#000"><rect x="111.6" y="396.5" width="9.8" height="9.8" rx="1"/><rect x="123.0" y="396.5" width="9.8" height="9.8" rx="1"/><rect x="134.4" y="396.5" width="9.8" height="9.8" rx="1"/><rect x="145.8" y="392.2" width="9.8" height="9.8" rx="1"/><rect x="157.1" y="400.0" width="9.8" height="9.8" rx="1"/><rect x="168.5" y="395.7" width="9.8" height="9.8" rx="1"/><rect x="179.9" y="400.2" width="9.8" height="9.8" rx="1"/><rect x="191.3" y="397.3" width="9.8" height="9.8" rx="1"/><rect x="202.7" y="391.3" width="9.8" height="9.8" rx="1"/><rect x="214.1" y="392.9" width="9.8" height="9.8" rx="1"/><rect x="225.5" y="385.5" width="9.8" height="9.8" rx="1"/><rect x="236.9" y="384.7" width="9.8" height="9.8" rx="1"/><rect x="248.2" y="381.1" width="9.8" height="9.8" rx="1"/><rect x="259.6" y="376.8" width="9.8" height="9.8" rx="1"/><rect x="271.0" y="374.8" width="9.8" height="9.8" rx="1"/><rect x="282.4" y="369.4" width="9.8" height="9.8" rx="1"/><rect x="293.8" y="369.4" width="9.8" height="9.8" rx="1"/><rect x="305.2" y="365.0" width="9.8" height="9.8" rx="1"/><rect x="316.6" y="361.5" width="9.8" height="9.8" rx="1"/><rect x="328.0" y="357.1" width="9.8" height="9.8" rx="1"/><rect x="339.3" y="350.7" width="9.8" height="9.8" rx="1"/><rect x="350.7" y="344.9" width="9.8" height="9.8" rx="1"/><rect x="362.1" y="332.0" width="9.8" height="9.8" rx="1"/><rect x="373.5" y="318.3" width="9.8" height="9.8" rx="1"/><rect x="384.9" y="303.9" width="9.8" height="9.8" rx="1"/><rect x="396.3" y="289.7" width="9.8" height="9.8" rx="1"/><rect x="407.7" y="275.4" width="9.8" height="9.8" rx="1"/><rect x="419.0" y="268.3" width="9.8" height="9.8" rx="1"/><rect x="430.4" y="234.2" width="9.8" height="9.8" rx="1"/><rect x="441.8" y="223.2" width="9.8" height="9.8" rx="1"/><rect x="453.2" y="207.1" width="9.8" height="9.8" rx="1"/><rect x="464.6" y="204.7" width="9.8" height="9.8" rx="1"/><rect x="476.0" y="186.7" width="9.8" height="9.8" rx="1"/><rect x="487.4" y="181.0" width="9.8" height="9.8" rx="1"/><rect x="498.8" y="167.7" width="9.8" height="9.8" rx="1"/><rect x="510.1" y="166.8" width="9.8" height="9.8" rx="1"/><rect x="521.5" y="161.5" width="9.8" height="9.8" rx="1"/><rect x="532.9" y="159.6" width="9.8" height="9.8" rx="1"/><rect x="544.3" y="160.6" width="9.8" height="9.8" rx="1"/><rect x="555.7" y="165.3" width="9.8" height="9.8" rx="1"/><rect x="567.1" y="162.0" width="9.8" height="9.8" rx="1"/><rect x="578.5" y="159.6" width="9.8" height="9.8" rx="1"/><rect x="589.9" y="157.3" width="9.8" height="9.8" rx="1"/><rect x="601.2" y="153.6" width="9.8" height="9.8" rx="1"/><rect x="612.6" y="147.8" width="9.8" height="9.8" rx="1"/><rect x="624.0" y="144.3" width="9.8" height="9.8" rx="1"/><rect x="635.4" y="139.0" width="9.8" height="9.8" rx="1"/><rect x="646.8" y="136.0" width="9.8" height="9.8" rx="1"/><rect x="658.2" y="131.7" width="9.8" height="9.8" rx="1"/><rect x="669.6" y="131.2" width="9.8" height="9.8" rx="1"/><rect x="681.0" y="133.6" width="9.8" height="9.8" rx="1"/><rect x="692.3" y="125.8" width="9.8" height="9.8" rx="1"/><rect x="703.7" y="122.4" width="9.8" height="9.8" rx="1"/><rect x="715.1" y="117.5" width="9.8" height="9.8" rx="1"/><rect x="726.5" y="114.8" width="9.8" height="9.8" rx="1"/><rect x="737.9" y="107.0" width="9.8" height="9.8" rx="1"/><rect x="749.3" y="101.6" width="9.8" height="9.8" rx="1"/></g>
<g fill="none" stroke="#111" stroke-width="1.5" stroke-linejoin="round"><path d="M903.8 387.1L907.8 394.6L899.8 394.6Z"/><path d="M915.0 387.1L919.0 394.6L911.1 394.6Z"/><path d="M926.3 386.1L930.2 393.6L922.3 393.6Z"/><path d="M937.5 383.1L941.5 390.6L933.6 390.6Z"/><path d="M948.8 381.1L952.7 388.6L944.8 388.6Z"/><path d="M960.0 382.1L964.0 389.6L956.0 389.6Z"/><path d="M971.2 379.1L975.2 386.6L967.3 386.6Z"/><path d="M982.5 381.1L986.4 388.6L978.5 388.6Z"/><path d="M993.7 378.1L997.7 385.6L989.8 385.6Z"/><path d="M1005.0 376.1L1008.9 383.6L1001.0 383.6Z"/><path d="M1016.2 371.8L1020.1 379.3L1012.2 379.3Z"/><path d="M1027.4 372.6L1031.4 380.1L1023.5 380.1Z"/><path d="M1038.7 370.1L1042.6 377.6L1034.7 377.6Z"/><path d="M1049.9 367.1L1053.9 374.6L1046.0 374.6Z"/><path d="M1061.2 362.1L1065.1 369.6L1057.2 369.6Z"/><path d="M1072.4 356.1L1076.3 363.6L1068.4 363.6Z"/><path d="M1083.6 354.1L1087.6 361.6L1079.7 361.6Z"/><path d="M1094.9 353.1L1098.8 360.6L1090.9 360.6Z"/><path d="M1106.1 345.1L1110.1 352.6L1102.2 352.6Z"/><path d="M1117.4 350.8L1121.3 358.3L1113.4 358.3Z"/><path d="M1128.6 345.2L1132.5 352.8L1124.6 352.8Z"/><path d="M1139.8 345.9L1143.8 353.4L1135.9 353.4Z"/><path d="M1151.1 344.6L1155.0 352.1L1147.1 352.1Z"/><path d="M1162.3 343.1L1166.3 350.6L1158.4 350.6Z"/><path d="M1173.6 336.6L1177.5 344.1L1169.6 344.1Z"/><path d="M1184.8 338.2L1188.8 345.8L1180.8 345.8Z"/><path d="M1196.0 334.2L1200.0 341.8L1192.1 341.8Z"/><path d="M1207.3 332.6L1211.2 340.1L1203.3 340.1Z"/><path d="M1218.5 332.1L1222.5 339.6L1214.6 339.6Z"/><path d="M1229.8 330.6L1233.7 338.1L1225.8 338.1Z"/><path d="M1241.0 329.9L1245.0 337.4L1237.0 337.4Z"/><path d="M1252.2 330.2L1256.2 337.8L1248.3 337.8Z"/><path d="M1263.5 328.2L1267.4 335.8L1259.5 335.8Z"/><path d="M1274.7 328.2L1278.7 335.8L1270.8 335.8Z"/><path d="M1286.0 327.1L1289.9 334.6L1282.0 334.6Z"/><path d="M1297.2 327.1L1301.2 334.6L1293.2 334.6Z"/><path d="M1308.4 325.6L1312.4 333.1L1304.5 333.1Z"/><path d="M1319.7 325.9L1323.6 333.4L1315.7 333.4Z"/><path d="M1330.9 323.1L1334.9 330.6L1327.0 330.6Z"/><path d="M1342.2 319.1L1346.1 326.6L1338.2 326.6Z"/><path d="M1353.4 314.9L1357.4 322.4L1349.5 322.4Z"/><path d="M1364.6 306.7L1368.6 314.2L1360.7 314.2Z"/><path d="M1375.9 292.2L1379.8 299.8L1371.9 299.8Z"/><path d="M1387.1 278.9L1391.1 286.5L1383.2 286.5Z"/><path d="M1398.4 268.4L1402.3 276.0L1394.4 276.0Z"/><path d="M1409.6 257.4L1413.5 265.0L1405.6 265.0Z"/><path d="M1420.8 241.6L1424.8 249.2L1416.9 249.2Z"/><path d="M1432.1 230.5L1436.0 238.2L1428.1 238.2Z"/><path d="M1443.3 213.0L1447.3 220.7L1439.4 220.7Z"/><path d="M1454.6 195.5L1458.5 203.2L1450.6 203.2Z"/><path d="M1465.8 182.9L1469.8 190.6L1461.8 190.6Z"/><path d="M1477.0 167.1L1481.0 174.8L1473.1 174.8Z"/><path d="M1488.3 150.3L1492.2 158.0L1484.3 158.0Z"/><path d="M1499.5 128.2L1503.5 135.8L1495.6 135.8Z"/><path d="M1510.8 114.6L1514.7 122.2L1506.8 122.2Z"/><path d="M1522.0 100.8L1526.0 108.4L1518.0 108.4Z"/><path d="M1533.2 88.0L1537.2 95.7L1529.3 95.7Z"/></g>
<g fill="none" stroke="#111" stroke-width="1.5" stroke-linejoin="round"><path d="M903.8 386.9L908.1 391.0L903.8 395.1L899.5 391.0Z"/><path d="M915.0 384.9L919.3 389.0L915.0 393.1L910.7 389.0Z"/><path d="M926.3 383.9L930.6 388.0L926.3 392.1L922.0 388.0Z"/><path d="M937.5 380.9L941.8 385.0L937.5 389.1L933.2 385.0Z"/><path d="M948.8 377.9L953.1 382.0L948.8 386.1L944.5 382.0Z"/><path d="M960.0 380.6L964.3 384.6L960.0 388.7L955.7 384.6Z"/><path d="M971.2 378.3L975.5 382.4L971.2 386.4L966.9 382.4Z"/><path d="M982.5 372.9L986.8 377.0L982.5 381.1L978.2 377.0Z"/><path d="M993.7 373.9L998.0 378.0L993.7 382.1L989.4 378.0Z"/><path d="M1005.0 370.9L1009.3 375.0L1005.0 379.1L1000.7 375.0Z"/><path d="M1016.2 367.9L1020.5 372.0L1016.2 376.1L1011.9 372.0Z"/><path d="M1027.4 364.9L1031.7 369.0L1027.4 373.1L1023.1 369.0Z"/><path d="M1038.7 366.9L1043.0 371.0L1038.7 375.1L1034.4 371.0Z"/><path d="M1049.9 361.9L1054.2 366.0L1049.9 370.1L1045.6 366.0Z"/><path d="M1061.2 360.6L1065.5 364.6L1061.2 368.7L1056.9 364.6Z"/><path d="M1072.4 354.9L1076.7 359.0L1072.4 363.1L1068.1 359.0Z"/><path d="M1083.6 352.9L1087.9 357.0L1083.6 361.1L1079.3 357.0Z"/><path d="M1094.9 350.9L1099.2 355.0L1094.9 359.1L1090.6 355.0Z"/><path d="M1106.1 343.9L1110.4 348.0L1106.1 352.1L1101.8 348.0Z"/><path d="M1117.4 344.9L1121.7 349.0L1117.4 353.1L1113.1 349.0Z"/><path d="M1128.6 340.9L1132.9 345.0L1128.6 349.1L1124.3 345.0Z"/><path d="M1139.8 339.9L1144.1 344.0L1139.8 348.1L1135.5 344.0Z"/><path d="M1151.1 335.8L1155.4 339.8L1151.1 343.9L1146.8 339.8Z"/><path d="M1162.3 333.9L1166.6 338.0L1162.3 342.1L1158.0 338.0Z"/><path d="M1173.6 332.3L1177.9 336.4L1173.6 340.4L1169.3 336.4Z"/><path d="M1184.8 330.6L1189.1 334.6L1184.8 338.7L1180.5 334.6Z"/><path d="M1196.0 327.4L1200.3 331.5L1196.0 335.6L1191.7 331.5Z"/><path d="M1207.3 328.6L1211.6 332.6L1207.3 336.7L1203.0 332.6Z"/><path d="M1218.5 324.4L1222.8 328.5L1218.5 332.6L1214.2 328.5Z"/><path d="M1229.8 320.3L1234.1 324.4L1229.8 328.4L1225.5 324.4Z"/><path d="M1241.0 318.8L1245.3 322.9L1241.0 326.9L1236.7 322.9Z"/><path d="M1252.2 315.2L1256.5 319.3L1252.2 323.4L1247.9 319.3Z"/><path d="M1263.5 315.2L1267.8 319.3L1263.5 323.4L1259.2 319.3Z"/><path d="M1274.7 318.2L1279.0 322.3L1274.7 326.4L1270.4 322.3Z"/><path d="M1286.0 313.1L1290.3 317.1L1286.0 321.2L1281.7 317.1Z"/><path d="M1297.2 303.3L1301.5 307.4L1297.2 311.4L1292.9 307.4Z"/><path d="M1308.4 293.6L1312.7 297.7L1308.4 301.8L1304.1 297.7Z"/><path d="M1319.7 283.9L1324.0 288.0L1319.7 292.1L1315.4 288.0Z"/><path d="M1330.9 277.3L1335.2 281.4L1330.9 285.4L1326.6 281.4Z"/><path d="M1342.2 269.9L1346.5 274.0L1342.2 278.1L1337.9 274.0Z"/><path d="M1353.4 253.3L1357.7 257.4L1353.4 261.4L1349.1 257.4Z"/><path d="M1364.6 238.9L1368.9 243.0L1364.6 247.1L1360.3 243.0Z"/><path d="M1375.9 224.4L1380.2 228.5L1375.9 232.6L1371.6 228.5Z"/><path d="M1387.1 207.0L1391.4 211.1L1387.1 215.2L1382.8 211.1Z"/><path d="M1398.4 188.9L1402.7 193.0L1398.4 197.1L1394.1 193.0Z"/><path d="M1409.6 174.0L1413.9 178.1L1409.6 182.2L1405.3 178.1Z"/><path d="M1420.8 160.4L1425.1 164.5L1420.8 168.6L1416.5 164.5Z"/><path d="M1432.1 149.5L1436.4 153.6L1432.1 157.7L1427.8 153.6Z"/><path d="M1443.3 136.4L1447.6 140.5L1443.3 144.6L1439.0 140.5Z"/><path d="M1454.6 118.7L1458.9 122.7L1454.6 126.8L1450.3 122.7Z"/><path d="M1465.8 118.7L1470.1 122.7L1465.8 126.8L1461.5 122.7Z"/><path d="M1477.0 118.5L1481.3 122.5L1477.0 126.5L1472.7 122.5Z"/><path d="M1488.3 121.2L1492.6 125.3L1488.3 129.3L1484.0 125.3Z"/><path d="M1499.5 128.4L1503.8 132.5L1499.5 136.6L1495.2 132.5Z"/><path d="M1510.8 140.3L1515.1 144.4L1510.8 148.5L1506.5 144.4Z"/><path d="M1522.0 150.9L1526.3 155.0L1522.0 159.1L1517.7 155.0Z"/><path d="M1533.2 158.8L1537.5 162.8L1533.2 166.9L1528.9 162.8Z"/></g>
<g fill="none" stroke="#333" stroke-width="1.6"><rect x="900.4" y="387.7" width="6.8" height="6.6" rx="1.2"/><rect x="911.6" y="385.7" width="6.8" height="6.6" rx="1.2"/><rect x="922.9" y="384.7" width="6.8" height="6.6" rx="1.2"/><rect x="934.1" y="381.7" width="6.8" height="6.6" rx="1.2"/><rect x="945.4" y="375.7" width="6.8" height="6.6" rx="1.2"/><rect x="956.6" y="376.7" width="6.8" height="6.6" rx="1.2"/><rect x="967.8" y="374.7" width="6.8" height="6.6" rx="1.2"/><rect x="979.1" y="369.7" width="6.8" height="6.6" rx="1.2"/><rect x="990.3" y="371.7" width="6.8" height="6.6" rx="1.2"/><rect x="1001.6" y="369.7" width="6.8" height="6.6" rx="1.2"/><rect x="1012.8" y="366.7" width="6.8" height="6.6" rx="1.2"/><rect x="1024.0" y="362.7" width="6.8" height="6.6" rx="1.2"/><rect x="1035.3" y="366.7" width="6.8" height="6.6" rx="1.2"/><rect x="1046.5" y="359.7" width="6.8" height="6.6" rx="1.2"/><rect x="1057.8" y="356.7" width="6.8" height="6.6" rx="1.2"/><rect x="1069.0" y="352.7" width="6.8" height="6.6" rx="1.2"/><rect x="1080.2" y="351.7" width="6.8" height="6.6" rx="1.2"/><rect x="1091.5" y="347.7" width="6.8" height="6.6" rx="1.2"/><rect x="1102.7" y="349.7" width="6.8" height="6.6" rx="1.2"/><rect x="1114.0" y="336.3" width="6.8" height="6.6" rx="1.2"/><rect x="1125.2" y="339.7" width="6.8" height="6.6" rx="1.2"/><rect x="1136.4" y="340.7" width="6.8" height="6.6" rx="1.2"/><rect x="1147.7" y="332.7" width="6.8" height="6.6" rx="1.2"/><rect x="1158.9" y="329.7" width="6.8" height="6.6" rx="1.2"/><rect x="1170.2" y="326.7" width="6.8" height="6.6" rx="1.2"/><rect x="1181.4" y="322.7" width="6.8" height="6.6" rx="1.2"/><rect x="1192.6" y="319.7" width="6.8" height="6.6" rx="1.2"/><rect x="1203.9" y="318.6" width="6.8" height="6.6" rx="1.2"/><rect x="1215.1" y="316.3" width="6.8" height="6.6" rx="1.2"/><rect x="1226.4" y="313.7" width="6.8" height="6.6" rx="1.2"/><rect x="1237.6" y="309.4" width="6.8" height="6.6" rx="1.2"/><rect x="1248.8" y="303.5" width="6.8" height="6.6" rx="1.2"/><rect x="1260.1" y="298.3" width="6.8" height="6.6" rx="1.2"/><rect x="1271.3" y="291.2" width="6.8" height="6.6" rx="1.2"/><rect x="1282.6" y="279.7" width="6.8" height="6.6" rx="1.2"/><rect x="1293.8" y="272.7" width="6.8" height="6.6" rx="1.2"/><rect x="1305.0" y="266.7" width="6.8" height="6.6" rx="1.2"/><rect x="1316.3" y="256.7" width="6.8" height="6.6" rx="1.2"/><rect x="1327.5" y="246.7" width="6.8" height="6.6" rx="1.2"/><rect x="1338.8" y="237.7" width="6.8" height="6.6" rx="1.2"/><rect x="1350.0" y="229.7" width="6.8" height="6.6" rx="1.2"/><rect x="1361.2" y="224.6" width="6.8" height="6.6" rx="1.2"/><rect x="1372.5" y="214.5" width="6.8" height="6.6" rx="1.2"/><rect x="1383.7" y="208.7" width="6.8" height="6.6" rx="1.2"/><rect x="1395.0" y="204.4" width="6.8" height="6.6" rx="1.2"/><rect x="1406.2" y="198.7" width="6.8" height="6.6" rx="1.2"/><rect x="1417.4" y="203.7" width="6.8" height="6.6" rx="1.2"/><rect x="1428.7" y="205.0" width="6.8" height="6.6" rx="1.2"/><rect x="1439.9" y="207.7" width="6.8" height="6.6" rx="1.2"/><rect x="1451.2" y="208.3" width="6.8" height="6.6" rx="1.2"/><rect x="1462.4" y="211.2" width="6.8" height="6.6" rx="1.2"/><rect x="1473.6" y="210.1" width="6.8" height="6.6" rx="1.2"/><rect x="1484.9" y="207.7" width="6.8" height="6.6" rx="1.2"/><rect x="1496.1" y="205.3" width="6.8" height="6.6" rx="1.2"/><rect x="1507.4" y="205.3" width="6.8" height="6.6" rx="1.2"/><rect x="1518.6" y="201.2" width="6.8" height="6.6" rx="1.2"/><rect x="1529.8" y="196.7" width="6.8" height="6.6" rx="1.2"/></g>
<g fill="none" stroke="#555" stroke-width="1.8"><path d="M899.5 390.9H908.1M903.8 386.7V395.2"/><path d="M910.7 386.9H919.3M915.0 382.7V391.2"/><path d="M922.0 385.7H930.6M926.3 381.5V390.0"/><path d="M933.2 382.8H941.8M937.5 378.6V387.1"/><path d="M944.5 374.8H953.1M948.8 370.6V379.1"/><path d="M955.7 376.2H964.3M960.0 371.9V380.4"/><path d="M966.9 372.9H975.5M971.2 368.6V377.1"/><path d="M978.2 368.0H986.8M982.5 363.8V372.3"/><path d="M989.4 370.1H998.0M993.7 365.9V374.4"/><path d="M1000.7 370.4H1009.3M1005.0 366.1V374.6"/><path d="M1011.9 366.6H1020.5M1016.2 362.4V370.9"/><path d="M1023.1 361.5H1031.7M1027.4 357.2V365.8"/><path d="M1034.4 366.8H1043.0M1038.7 362.6V371.1"/><path d="M1045.6 360.4H1054.2M1049.9 356.2V364.7"/><path d="M1056.9 355.6H1065.5M1061.2 351.3V359.8"/><path d="M1068.1 353.5H1076.7M1072.4 349.3V357.8"/><path d="M1079.3 351.9H1087.9M1083.6 347.7V356.2"/><path d="M1090.6 348.7H1099.2M1094.9 344.4V352.9"/><path d="M1101.8 340.0H1110.4M1106.1 335.8V344.2"/><path d="M1113.1 344.7H1121.7M1117.4 340.4V348.9"/><path d="M1124.3 339.1H1132.9M1128.6 334.8V343.3"/><path d="M1135.5 341.3H1144.1M1139.8 337.0V345.5"/><path d="M1146.8 332.2H1155.4M1151.1 327.9V336.4"/><path d="M1158.0 330.2H1166.6M1162.3 325.9V334.4"/><path d="M1169.3 326.2H1177.9M1173.6 322.0V330.5"/><path d="M1180.5 322.6H1189.1M1184.8 318.3V326.8"/><path d="M1191.7 318.3H1200.3M1196.0 314.0V322.5"/><path d="M1203.0 316.4H1211.6M1207.3 312.2V320.7"/><path d="M1214.2 311.5H1222.8M1218.5 307.2V315.7"/><path d="M1225.5 308.2H1234.1M1229.8 304.0V312.5"/><path d="M1236.7 305.0H1245.3M1241.0 300.8V309.2"/><path d="M1247.9 297.0H1256.5M1252.2 292.8V301.2"/><path d="M1259.2 292.0H1267.8M1263.5 287.8V296.2"/><path d="M1270.4 283.0H1279.0M1274.7 278.8V287.2"/><path d="M1281.7 274.3H1290.3M1286.0 270.1V278.6"/><path d="M1292.9 263.4H1301.5M1297.2 259.1V267.6"/><path d="M1304.1 266.0H1312.7M1308.4 261.8V270.2"/><path d="M1315.4 263.0H1324.0M1319.7 258.8V267.2"/><path d="M1326.6 261.3H1335.2M1330.9 257.1V265.6"/><path d="M1337.9 256.0H1346.5M1342.2 251.8V260.2"/><path d="M1349.1 252.3H1357.7M1353.4 248.1V256.6"/><path d="M1360.3 249.9H1368.9M1364.6 245.7V254.2"/><path d="M1371.6 245.5H1380.2M1375.9 241.2V249.8"/><path d="M1382.8 246.3H1391.4M1387.1 242.1V250.6"/><path d="M1394.1 241.8H1402.7M1398.4 237.6V246.1"/><path d="M1405.3 242.0H1413.9M1409.6 237.8V246.2"/><path d="M1416.5 244.4H1425.1M1420.8 240.2V248.7"/><path d="M1427.8 242.9H1436.4M1432.1 238.7V247.2"/><path d="M1439.0 241.5H1447.6M1443.3 237.2V245.8"/><path d="M1450.3 239.5H1458.9M1454.6 235.2V243.8"/><path d="M1461.5 235.9H1470.1M1465.8 231.7V240.2"/><path d="M1472.7 232.7H1481.3M1477.0 228.4V236.9"/><path d="M1484.0 225.2H1492.6M1488.3 220.9V229.4"/><path d="M1495.2 222.9H1503.8M1499.5 218.7V227.2"/><path d="M1506.5 219.3H1515.1M1510.8 215.1V223.6"/><path d="M1517.7 216.3H1526.3M1522.0 212.1V220.6"/><path d="M1528.9 212.2H1537.5M1533.2 207.9V216.4"/></g>
<g fill="#000"><ellipse cx="903.8" cy="391.0" rx="4.10" ry="4.00"/><ellipse cx="915.0" cy="388.0" rx="4.10" ry="4.00"/><ellipse cx="926.3" cy="387.0" rx="4.10" ry="4.00"/><ellipse cx="937.5" cy="384.0" rx="4.10" ry="4.00"/><ellipse cx="948.8" cy="375.6" rx="4.10" ry="4.00"/><ellipse cx="960.0" cy="377.0" rx="4.10" ry="4.00"/><ellipse cx="971.2" cy="374.0" rx="4.10" ry="4.00"/><ellipse cx="982.5" cy="369.0" rx="4.10" ry="4.00"/><ellipse cx="993.7" cy="371.0" rx="4.10" ry="4.00"/><ellipse cx="1005.0" cy="371.0" rx="4.10" ry="4.00"/><ellipse cx="1016.2" cy="367.7" rx="4.10" ry="4.00"/><ellipse cx="1027.4" cy="363.0" rx="4.10" ry="4.00"/><ellipse cx="1038.7" cy="369.0" rx="4.10" ry="4.00"/><ellipse cx="1049.9" cy="361.3" rx="4.10" ry="4.00"/><ellipse cx="1061.2" cy="356.6" rx="4.10" ry="4.00"/><ellipse cx="1072.4" cy="354.7" rx="4.10" ry="4.00"/><ellipse cx="1083.6" cy="353.3" rx="4.10" ry="4.00"/><ellipse cx="1094.9" cy="349.8" rx="4.10" ry="4.00"/><ellipse cx="1106.1" cy="346.4" rx="4.10" ry="4.00"/><ellipse cx="1117.4" cy="345.0" rx="4.10" ry="4.00"/><ellipse cx="1128.6" cy="339.4" rx="4.10" ry="4.00"/><ellipse cx="1139.8" cy="342.2" rx="4.10" ry="4.00"/><ellipse cx="1151.1" cy="332.5" rx="4.10" ry="4.00"/><ellipse cx="1162.3" cy="331.1" rx="4.10" ry="4.00"/><ellipse cx="1173.6" cy="327.0" rx="4.10" ry="4.00"/><ellipse cx="1184.8" cy="323.5" rx="4.10" ry="4.00"/><ellipse cx="1196.0" cy="319.4" rx="4.10" ry="4.00"/><ellipse cx="1207.3" cy="317.3" rx="4.10" ry="4.00"/><ellipse cx="1218.5" cy="313.2" rx="4.10" ry="4.00"/><ellipse cx="1229.8" cy="309.6" rx="4.10" ry="4.00"/><ellipse cx="1241.0" cy="306.0" rx="4.10" ry="4.00"/><ellipse cx="1252.2" cy="297.5" rx="4.10" ry="4.00"/><ellipse cx="1263.5" cy="294.5" rx="4.10" ry="4.00"/><ellipse cx="1274.7" cy="285.5" rx="4.10" ry="4.00"/><ellipse cx="1286.0" cy="283.0" rx="4.10" ry="4.00"/><ellipse cx="1297.2" cy="276.5" rx="4.10" ry="4.00"/><ellipse cx="1308.4" cy="270.5" rx="4.10" ry="4.00"/><ellipse cx="1319.7" cy="263.0" rx="4.10" ry="4.00"/><ellipse cx="1330.9" cy="258.3" rx="4.10" ry="4.00"/><ellipse cx="1342.2" cy="252.8" rx="4.10" ry="4.00"/><ellipse cx="1353.4" cy="247.5" rx="4.10" ry="4.00"/><ellipse cx="1364.6" cy="244.8" rx="4.10" ry="4.00"/><ellipse cx="1375.9" cy="236.8" rx="4.10" ry="4.00"/><ellipse cx="1387.1" cy="231.2" rx="4.10" ry="4.00"/><ellipse cx="1398.4" cy="229.0" rx="4.10" ry="4.00"/><ellipse cx="1409.6" cy="227.7" rx="4.10" ry="4.00"/><ellipse cx="1420.8" cy="218.8" rx="4.10" ry="4.00"/><ellipse cx="1432.1" cy="224.4" rx="4.10" ry="4.00"/><ellipse cx="1443.3" cy="221.7" rx="4.10" ry="4.00"/><ellipse cx="1454.6" cy="218.1" rx="4.10" ry="4.00"/><ellipse cx="1465.8" cy="214.0" rx="4.10" ry="4.00"/><ellipse cx="1477.0" cy="211.0" rx="4.10" ry="4.00"/><ellipse cx="1488.3" cy="205.1" rx="4.10" ry="4.00"/><ellipse cx="1499.5" cy="200.3" rx="4.10" ry="4.00"/><ellipse cx="1510.8" cy="196.2" rx="4.10" ry="4.00"/><ellipse cx="1522.0" cy="192.2" rx="4.10" ry="4.00"/><ellipse cx="1533.2" cy="184.8" rx="4.10" ry="4.00"/></g>
<g fill="#000"><path d="M903.8 386.3L908.3 395.4L899.3 395.4Z"/><path d="M915.0 381.3L919.5 390.4L910.5 390.4Z"/><path d="M926.3 379.9L930.8 389.0L921.8 389.0Z"/><path d="M937.5 377.1L942.0 386.2L933.0 386.2Z"/><path d="M948.8 369.5L953.3 378.6L944.3 378.6Z"/><path d="M960.0 370.8L964.5 379.9L955.5 379.9Z"/><path d="M971.2 367.2L975.7 376.3L966.7 376.3Z"/><path d="M982.5 362.5L987.0 371.6L978.0 371.6Z"/><path d="M993.7 364.6L998.2 373.8L989.2 373.8Z"/><path d="M1005.0 365.2L1009.5 374.4L1000.5 374.4Z"/><path d="M1016.2 361.0L1020.7 370.1L1011.7 370.1Z"/><path d="M1027.4 355.4L1031.9 364.6L1022.9 364.6Z"/><path d="M1038.7 360.1L1043.2 369.2L1034.2 369.2Z"/><path d="M1049.9 354.9L1054.4 364.1L1045.4 364.1Z"/><path d="M1061.2 350.0L1065.7 359.1L1056.7 359.1Z"/><path d="M1072.4 347.8L1076.9 356.9L1067.9 356.9Z"/><path d="M1083.6 346.1L1088.1 355.2L1079.1 355.2Z"/><path d="M1094.9 343.0L1099.4 352.1L1090.4 352.1Z"/><path d="M1106.1 341.2L1110.6 350.3L1101.6 350.3Z"/><path d="M1117.4 339.8L1121.9 348.9L1112.9 348.9Z"/><path d="M1128.6 334.2L1133.1 343.3L1124.1 343.3Z"/><path d="M1139.8 335.8L1144.3 344.9L1135.3 344.9Z"/><path d="M1151.1 327.3L1155.6 336.4L1146.6 336.4Z"/><path d="M1162.3 324.7L1166.8 333.8L1157.8 333.8Z"/><path d="M1173.6 320.9L1178.1 330.1L1169.1 330.1Z"/><path d="M1184.8 317.1L1189.3 326.2L1180.3 326.2Z"/><path d="M1196.0 312.6L1200.5 321.7L1191.5 321.7Z"/><path d="M1207.3 311.0L1211.8 320.1L1202.8 320.1Z"/><path d="M1218.5 305.2L1223.0 314.3L1214.0 314.3Z"/><path d="M1229.8 302.3L1234.3 311.4L1225.3 311.4Z"/><path d="M1241.0 299.4L1245.5 308.6L1236.5 308.6Z"/><path d="M1252.2 291.4L1256.7 300.6L1247.7 300.6Z"/><path d="M1263.5 287.4L1268.0 296.6L1259.0 296.6Z"/><path d="M1274.7 279.4L1279.2 288.6L1270.2 288.6Z"/><path d="M1286.0 276.4L1290.5 285.6L1281.5 285.6Z"/><path d="M1297.2 269.4L1301.7 278.6L1292.7 278.6Z"/><path d="M1308.4 263.4L1312.9 272.6L1303.9 272.6Z"/><path d="M1319.7 255.4L1324.2 264.6L1315.2 264.6Z"/><path d="M1330.9 247.4L1335.4 256.6L1326.4 256.6Z"/><path d="M1342.2 241.4L1346.7 250.6L1337.7 250.6Z"/><path d="M1353.4 236.8L1357.9 245.9L1348.9 245.9Z"/><path d="M1364.6 229.2L1369.1 238.4L1360.1 238.4Z"/><path d="M1375.9 217.4L1380.4 226.6L1371.4 226.6Z"/><path d="M1387.1 214.1L1391.6 223.2L1382.6 223.2Z"/><path d="M1398.4 203.8L1402.9 212.9L1393.9 212.9Z"/><path d="M1409.6 196.3L1414.1 205.5L1405.1 205.5Z"/><path d="M1420.8 190.3L1425.3 199.5L1416.3 199.5Z"/><path d="M1432.1 189.6L1436.6 198.8L1427.6 198.8Z"/><path d="M1443.3 184.5L1447.8 193.7L1438.8 193.7Z"/><path d="M1454.6 177.2L1459.1 186.4L1450.1 186.4Z"/><path d="M1465.8 176.6L1470.3 185.8L1461.3 185.8Z"/><path d="M1477.0 176.0L1481.5 185.2L1472.5 185.2Z"/><path d="M1488.3 165.4L1492.8 174.6L1483.8 174.6Z"/><path d="M1499.5 161.4L1504.0 170.6L1495.0 170.6Z"/><path d="M1510.8 156.2L1515.3 165.4L1506.3 165.4Z"/><path d="M1522.0 151.1L1526.5 160.2L1517.5 160.2Z"/><path d="M1533.2 143.9L1537.7 153.1L1528.7 153.1Z"/></g>
<g fill="#000"><path d="M903.8 386.4L908.6 390.8L903.8 395.3L898.9 390.8Z"/><path d="M915.0 380.4L919.9 384.9L915.0 389.3L910.2 384.9Z"/><path d="M926.3 378.7L931.1 383.2L926.3 387.6L921.4 383.2Z"/><path d="M937.5 375.9L942.4 380.4L937.5 384.8L932.7 380.4Z"/><path d="M948.8 368.9L953.6 373.3L948.8 377.8L943.9 373.3Z"/><path d="M960.0 370.1L964.9 374.5L960.0 379.0L955.1 374.5Z"/><path d="M971.2 366.2L976.1 370.6L971.2 375.1L966.4 370.6Z"/><path d="M982.5 361.6L987.3 366.1L982.5 370.5L977.6 366.1Z"/><path d="M993.7 363.9L998.6 368.3L993.7 372.8L988.9 368.3Z"/><path d="M1005.0 351.9L1009.8 356.3L1005.0 360.8L1000.1 356.3Z"/><path d="M1016.2 360.0L1021.0 364.5L1016.2 368.9L1011.3 364.5Z"/><path d="M1027.4 354.1L1032.3 358.5L1027.4 362.9L1022.6 358.5Z"/><path d="M1038.7 358.0L1043.5 362.5L1038.7 366.9L1033.8 362.5Z"/><path d="M1049.9 354.2L1054.8 358.6L1049.9 363.1L1045.1 358.6Z"/><path d="M1061.2 349.1L1066.0 353.5L1061.2 358.0L1056.3 353.5Z"/><path d="M1072.4 346.8L1077.2 351.2L1072.4 355.7L1067.5 351.2Z"/><path d="M1083.6 344.8L1088.5 349.2L1083.6 353.7L1078.8 349.2Z"/><path d="M1094.9 341.9L1099.7 346.4L1094.9 350.8L1090.0 346.4Z"/><path d="M1106.1 341.0L1111.0 345.5L1106.1 349.9L1101.3 345.5Z"/><path d="M1117.4 339.6L1122.2 344.1L1117.4 348.5L1112.5 344.1Z"/><path d="M1128.6 334.1L1133.4 338.5L1128.6 342.9L1123.8 338.5Z"/><path d="M1139.8 335.0L1144.7 339.4L1139.8 343.9L1135.0 339.4Z"/><path d="M1151.1 327.2L1155.9 331.6L1151.1 336.1L1146.2 331.6Z"/><path d="M1162.3 323.9L1167.2 328.4L1162.3 332.8L1157.5 328.4Z"/><path d="M1173.6 320.3L1178.4 324.8L1173.6 329.2L1168.7 324.8Z"/><path d="M1184.8 316.3L1189.6 320.7L1184.8 325.2L1180.0 320.7Z"/><path d="M1196.0 311.5L1200.9 316.0L1196.0 320.4L1191.2 316.0Z"/><path d="M1207.3 310.2L1212.1 314.7L1207.3 319.1L1202.4 314.7Z"/><path d="M1218.5 303.5L1223.4 308.0L1218.5 312.4L1213.7 308.0Z"/><path d="M1229.8 302.2L1234.6 306.6L1229.8 311.1L1224.9 306.6Z"/><path d="M1241.0 300.9L1245.8 305.3L1241.0 309.8L1236.2 305.3Z"/><path d="M1252.2 291.6L1257.1 296.0L1252.2 300.4L1247.4 296.0Z"/><path d="M1263.5 285.6L1268.3 290.0L1263.5 294.4L1258.6 290.0Z"/><path d="M1274.7 275.6L1279.6 280.0L1274.7 284.4L1269.9 280.0Z"/><path d="M1286.0 274.6L1290.8 279.0L1286.0 283.4L1281.1 279.0Z"/><path d="M1297.2 267.6L1302.0 272.0L1297.2 276.4L1292.4 272.0Z"/><path d="M1308.4 262.6L1313.3 267.0L1308.4 271.4L1303.6 267.0Z"/><path d="M1319.7 252.6L1324.5 257.0L1319.7 261.4L1314.8 257.0Z"/><path d="M1330.9 246.1L1335.8 250.5L1330.9 254.9L1326.1 250.5Z"/><path d="M1342.2 238.6L1347.0 243.0L1342.2 247.4L1337.3 243.0Z"/><path d="M1353.4 228.1L1358.2 232.5L1353.4 236.9L1348.6 232.5Z"/><path d="M1364.6 219.1L1369.5 223.5L1364.6 227.9L1359.8 223.5Z"/><path d="M1375.9 205.6L1380.7 210.0L1375.9 214.4L1371.0 210.0Z"/><path d="M1387.1 199.4L1392.0 203.8L1387.1 208.2L1382.3 203.8Z"/><path d="M1398.4 188.2L1403.2 192.6L1398.4 197.0L1393.5 192.6Z"/><path d="M1409.6 180.4L1414.4 184.8L1409.6 189.2L1404.8 184.8Z"/><path d="M1420.8 169.6L1425.7 174.0L1420.8 178.4L1416.0 174.0Z"/><path d="M1432.1 162.0L1436.9 166.4L1432.1 170.8L1427.2 166.4Z"/><path d="M1443.3 156.4L1448.2 160.8L1443.3 165.2L1438.5 160.8Z"/><path d="M1454.6 151.0L1459.4 155.4L1454.6 159.8L1449.7 155.4Z"/><path d="M1465.8 151.8L1470.6 156.2L1465.8 160.6L1461.0 156.2Z"/><path d="M1477.0 148.4L1481.9 152.8L1477.0 157.2L1472.2 152.8Z"/><path d="M1488.3 146.1L1493.1 150.5L1488.3 154.9L1483.4 150.5Z"/><path d="M1499.5 140.8L1504.4 145.2L1499.5 149.6L1494.7 145.2Z"/><path d="M1510.8 132.0L1515.6 136.4L1510.8 140.8L1505.9 136.4Z"/><path d="M1522.0 128.8L1526.8 133.2L1522.0 137.6L1517.2 133.2Z"/><path d="M1533.2 123.3L1538.1 127.8L1533.2 132.2L1528.4 127.8Z"/></g>
<g fill="#000"><rect x="899.3" y="389.3" width="9.0" height="2.8" rx="1"/><rect x="910.5" y="381.7" width="9.0" height="2.8" rx="1"/><rect x="921.8" y="379.7" width="9.0" height="2.8" rx="1"/><rect x="933.0" y="377.0" width="9.0" height="2.8" rx="1"/><rect x="944.3" y="370.6" width="9.0" height="2.8" rx="1"/><rect x="955.5" y="371.8" width="9.0" height="2.8" rx="1"/><rect x="966.7" y="367.4" width="9.0" height="2.8" rx="1"/><rect x="978.0" y="363.1" width="9.0" height="2.8" rx="1"/><rect x="989.2" y="365.4" width="9.0" height="2.8" rx="1"/><rect x="1000.5" y="366.8" width="9.0" height="2.8" rx="1"/><rect x="1011.7" y="361.3" width="9.0" height="2.8" rx="1"/><rect x="1022.9" y="354.6" width="9.0" height="2.8" rx="1"/><rect x="1034.2" y="357.5" width="9.0" height="2.8" rx="1"/><rect x="1045.4" y="355.7" width="9.0" height="2.8" rx="1"/><rect x="1056.7" y="350.4" width="9.0" height="2.8" rx="1"/><rect x="1067.9" y="347.9" width="9.0" height="2.8" rx="1"/><rect x="1079.1" y="345.6" width="9.0" height="2.8" rx="1"/><rect x="1090.4" y="343.1" width="9.0" height="2.8" rx="1"/><rect x="1101.6" y="343.5" width="9.0" height="2.8" rx="1"/><rect x="1112.9" y="342.1" width="9.0" height="2.8" rx="1"/><rect x="1124.1" y="336.6" width="9.0" height="2.8" rx="1"/><rect x="1135.3" y="336.5" width="9.0" height="2.8" rx="1"/><rect x="1146.6" y="329.7" width="9.0" height="2.8" rx="1"/><rect x="1157.8" y="325.4" width="9.0" height="2.8" rx="1"/><rect x="1169.1" y="322.1" width="9.0" height="2.8" rx="1"/><rect x="1180.3" y="317.8" width="9.0" height="2.8" rx="1"/><rect x="1191.5" y="312.7" width="9.0" height="2.8" rx="1"/><rect x="1202.8" y="311.8" width="9.0" height="2.8" rx="1"/><rect x="1214.0" y="303.7" width="9.0" height="2.8" rx="1"/><rect x="1225.3" y="300.2" width="9.0" height="2.8" rx="1"/><rect x="1236.5" y="296.8" width="9.0" height="2.8" rx="1"/><rect x="1247.7" y="290.6" width="9.0" height="2.8" rx="1"/><rect x="1259.0" y="285.6" width="9.0" height="2.8" rx="1"/><rect x="1270.2" y="276.6" width="9.0" height="2.8" rx="1"/><rect x="1281.5" y="276.6" width="9.0" height="2.8" rx="1"/><rect x="1292.7" y="269.6" width="9.0" height="2.8" rx="1"/><rect x="1303.9" y="262.6" width="9.0" height="2.8" rx="1"/><rect x="1315.2" y="250.3" width="9.0" height="2.8" rx="1"/><rect x="1326.4" y="238.7" width="9.0" height="2.8" rx="1"/><rect x="1337.7" y="233.2" width="9.0" height="2.8" rx="1"/><rect x="1348.9" y="215.6" width="9.0" height="2.8" rx="1"/><rect x="1360.1" y="204.6" width="9.0" height="2.8" rx="1"/><rect x="1371.4" y="194.1" width="9.0" height="2.8" rx="1"/><rect x="1382.6" y="180.6" width="9.0" height="2.8" rx="1"/><rect x="1393.9" y="167.6" width="9.0" height="2.8" rx="1"/><rect x="1405.1" y="158.5" width="9.0" height="2.8" rx="1"/><rect x="1416.3" y="146.3" width="9.0" height="2.8" rx="1"/><rect x="1427.6" y="140.6" width="9.0" height="2.8" rx="1"/><rect x="1438.8" y="135.3" width="9.0" height="2.8" rx="1"/><rect x="1450.1" y="129.1" width="9.0" height="2.8" rx="1"/><rect x="1461.3" y="127.9" width="9.0" height="2.8" rx="1"/><rect x="1472.5" y="123.4" width="9.0" height="2.8" rx="1"/><rect x="1483.8" y="122.6" width="9.0" height="2.8" rx="1"/><rect x="1495.0" y="117.4" width="9.0" height="2.8" rx="1"/><rect x="1506.3" y="111.9" width="9.0" height="2.8" rx="1"/><rect x="1517.5" y="107.8" width="9.0" height="2.8" rx="1"/><rect x="1528.7" y="101.6" width="9.0" height="2.8" rx="1"/></g>
<g fill="#000"><rect x="899.1" y="386.0" width="9.4" height="9.3" rx="1"/><rect x="910.3" y="376.4" width="9.4" height="9.3" rx="1"/><rect x="921.6" y="373.9" width="9.4" height="9.3" rx="1"/><rect x="932.8" y="371.4" width="9.4" height="9.3" rx="1"/><rect x="944.1" y="365.9" width="9.4" height="9.3" rx="1"/><rect x="955.3" y="366.9" width="9.4" height="9.3" rx="1"/><rect x="966.5" y="361.9" width="9.4" height="9.3" rx="1"/><rect x="977.8" y="357.9" width="9.4" height="9.3" rx="1"/><rect x="989.0" y="360.4" width="9.4" height="9.3" rx="1"/><rect x="1000.3" y="362.4" width="9.4" height="9.3" rx="1"/><rect x="1011.5" y="355.9" width="9.4" height="9.3" rx="1"/><rect x="1022.7" y="348.4" width="9.4" height="9.3" rx="1"/><rect x="1034.0" y="349.9" width="9.4" height="9.3" rx="1"/><rect x="1045.2" y="350.7" width="9.4" height="9.3" rx="1"/><rect x="1056.5" y="345.2" width="9.4" height="9.3" rx="1"/><rect x="1067.7" y="342.4" width="9.4" height="9.3" rx="1"/><rect x="1078.9" y="339.7" width="9.4" height="9.3" rx="1"/><rect x="1090.2" y="337.6" width="9.4" height="9.3" rx="1"/><rect x="1101.4" y="339.7" width="9.4" height="9.3" rx="1"/><rect x="1112.7" y="338.2" width="9.4" height="9.3" rx="1"/><rect x="1123.9" y="332.8" width="9.4" height="9.3" rx="1"/><rect x="1135.1" y="331.4" width="9.4" height="9.3" rx="1"/><rect x="1146.4" y="325.9" width="9.4" height="9.3" rx="1"/><rect x="1157.6" y="320.4" width="9.4" height="9.3" rx="1"/><rect x="1168.9" y="317.4" width="9.4" height="9.3" rx="1"/><rect x="1180.1" y="312.7" width="9.4" height="9.3" rx="1"/><rect x="1191.3" y="307.2" width="9.4" height="9.3" rx="1"/><rect x="1202.6" y="306.9" width="9.4" height="9.3" rx="1"/><rect x="1213.8" y="297.0" width="9.4" height="9.3" rx="1"/><rect x="1225.1" y="291.7" width="9.4" height="9.3" rx="1"/><rect x="1236.3" y="286.2" width="9.4" height="9.3" rx="1"/><rect x="1247.5" y="279.9" width="9.4" height="9.3" rx="1"/><rect x="1258.8" y="276.8" width="9.4" height="9.3" rx="1"/><rect x="1270.0" y="265.7" width="9.4" height="9.3" rx="1"/><rect x="1281.3" y="252.5" width="9.4" height="9.3" rx="1"/><rect x="1292.5" y="243.8" width="9.4" height="9.3" rx="1"/><rect x="1303.7" y="235.3" width="9.4" height="9.3" rx="1"/><rect x="1315.0" y="222.4" width="9.4" height="9.3" rx="1"/><rect x="1326.2" y="206.9" width="9.4" height="9.3" rx="1"/><rect x="1337.5" y="196.7" width="9.4" height="9.3" rx="1"/><rect x="1348.7" y="182.8" width="9.4" height="9.3" rx="1"/><rect x="1359.9" y="171.0" width="9.4" height="9.3" rx="1"/><rect x="1371.2" y="159.9" width="9.4" height="9.3" rx="1"/><rect x="1382.4" y="151.3" width="9.4" height="9.3" rx="1"/><rect x="1393.7" y="138.3" width="9.4" height="9.3" rx="1"/><rect x="1404.9" y="126.4" width="9.4" height="9.3" rx="1"/><rect x="1416.1" y="114.8" width="9.4" height="9.3" rx="1"/><rect x="1427.4" y="108.1" width="9.4" height="9.3" rx="1"/><rect x="1438.6" y="110.1" width="9.4" height="9.3" rx="1"/><rect x="1449.9" y="104.8" width="9.4" height="9.3" rx="1"/><rect x="1461.1" y="105.0" width="9.4" height="9.3" rx="1"/><rect x="1472.3" y="101.6" width="9.4" height="9.3" rx="1"/><rect x="1483.6" y="100.3" width="9.4" height="9.3" rx="1"/><rect x="1494.8" y="98.4" width="9.4" height="9.3" rx="1"/><rect x="1506.1" y="98.4" width="9.4" height="9.3" rx="1"/><rect x="1517.3" y="92.5" width="9.4" height="9.3" rx="1"/><rect x="1528.5" y="86.8" width="9.4" height="9.3" rx="1"/></g>
<path d="M114.7,64.0V430.0H760.5M107.4,430.0H114.7M107.4,247.0H114.7M107.4,64.0H114.7M115.3,430.0V437.0M218.3,430.0V437.0M322.6,430.0V437.0M427.3,430.0V437.0M531.5,430.0V437.0M636.2,430.0V437.0M740.5,430.0V437.0" fill="none" stroke="#222" stroke-width="1.4"/>
<path d="M902.6,69.6V426.6H1539.4M895.3000000000001,426.6H902.6M895.3000000000001,307.6H902.6M895.3000000000001,188.6H902.6M895.3000000000001,69.6H902.6M903.0,426.6V433.6M1004.8,426.6V433.6M1107.5,426.6V433.6M1210.6,426.6V433.6M1313.7,426.6V433.6M1416.3,426.6V433.6M1519.4,426.6V433.6" fill="none" stroke="#222" stroke-width="1.4"/>
<text transform="translate(93.0,439.4) scale(1.0,1.03)" text-anchor="end" class="n">0,0E+00</text>
<text transform="translate(93.0,256.6) scale(1.0,1.03)" text-anchor="end" class="n">2,5E+04</text>
<text transform="translate(93.0,74.0) scale(1.0,1.03)" text-anchor="end" class="n">5,0E+04</text>
<text transform="translate(114.9,468.8) scale(1.0,1.03)" text-anchor="middle" class="n">00.00</text>
<text transform="translate(217.9,468.8) scale(1.0,1.03)" text-anchor="middle" class="n">02.24</text>
<text transform="translate(322.2,468.8) scale(1.0,1.03)" text-anchor="middle" class="n">04.48</text>
<text transform="translate(426.9,468.8) scale(1.0,1.03)" text-anchor="middle" class="n">07.12</text>
<text transform="translate(531.1,468.8) scale(1.0,1.03)" text-anchor="middle" class="n">09.36</text>
<text transform="translate(635.8,468.8) scale(1.0,1.03)" text-anchor="middle" class="n">12.00</text>
<text transform="translate(740.1,468.8) scale(1.0,1.03)" text-anchor="middle" class="n">14.24</text>
<text transform="translate(881.3,435.9) scale(1.0,1.03)" text-anchor="end" class="n">0,0E+00</text>
<text transform="translate(881.3,316.9) scale(1.0,1.03)" text-anchor="end" class="n">4,0E+04</text>
<text transform="translate(881.3,197.9) scale(1.0,1.03)" text-anchor="end" class="n">8,0E+04</text>
<text transform="translate(881.3,78.9) scale(1.0,1.03)" text-anchor="end" class="n">1,2E+05</text>
<text transform="translate(902.6,465.0) scale(1.0,1.03)" text-anchor="middle" class="n">00.00</text>
<text transform="translate(1004.4,465.0) scale(1.0,1.03)" text-anchor="middle" class="n">02.24</text>
<text transform="translate(1107.1,465.0) scale(1.0,1.03)" text-anchor="middle" class="n">04.48</text>
<text transform="translate(1210.2,465.0) scale(1.0,1.03)" text-anchor="middle" class="n">07.12</text>
<text transform="translate(1313.3,465.0) scale(1.0,1.03)" text-anchor="middle" class="n">09.36</text>
<text transform="translate(1415.9,465.0) scale(1.0,1.03)" text-anchor="middle" class="n">12.00</text>
<text transform="translate(1519.0,465.0) scale(1.0,1.03)" text-anchor="middle" class="n">14.24</text>
<text transform="translate(17.5,33.0) scale(0.98,1.02)" class="big">a</text>
<text transform="translate(800.8,32.0) scale(1.08,1.0)" class="big">b</text>
<text transform="translate(61.4,43.7) scale(1.01,1.05)" class="b">RFU/OD</text>
<text transform="translate(845.4,49.3)" class="b">RFU/OD</text>
<text transform="translate(693.0,496.9) scale(1.0,1.05)" class="b">Time [h]</text>
<text transform="translate(1472.8,495.8) scale(1.0,1.05)" class="b">Time [h]</text>
<rect x="790.6" y="470" width="3" height="36" fill="#fff"/>
</svg>
</body></html>
